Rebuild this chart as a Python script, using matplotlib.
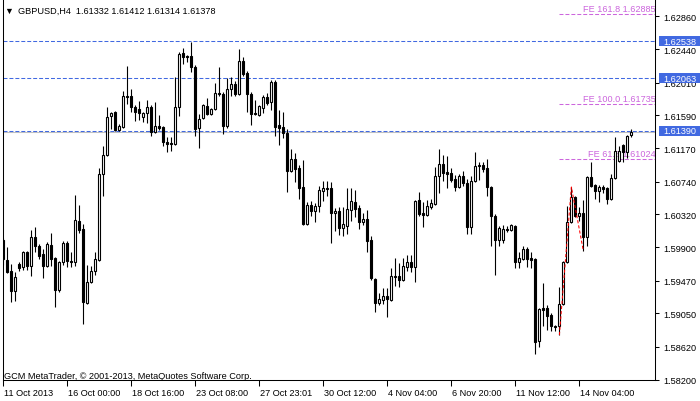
import numpy as np
import matplotlib
matplotlib.use('Agg')
import matplotlib.pyplot as plt
from matplotlib.transforms import blended_transform_factory
from matplotlib.patches import Rectangle

# ---------------- data ----------------
symbol = "GBPUSD,H4"

opens = [1.59992, 1.59735, 1.59594, 1.59337, 1.59684, 1.59645, 1.59838, 1.59658, 1.60030, 1.59915,
         1.59812, 1.59658, 1.59928, 1.59761, 1.59350, 1.59710, 1.59954, 1.59722, 1.59710, 1.60235,
         1.60133, 1.59184, 1.59454, 1.59594, 1.59735, 1.60838, 1.61082, 1.61581, 1.61633, 1.61402,
         1.61440, 1.61838, 1.61838, 1.61697, 1.61671, 1.61568, 1.61620, 1.61697, 1.61377, 1.61453,
         1.61440, 1.61249, 1.61236, 1.61223, 1.61697, 1.62390, 1.62351, 1.62351, 1.62210, 1.61427,
         1.61556, 1.61710, 1.61607, 1.61671, 1.61877, 1.61864, 1.61453, 1.61928, 1.61992, 1.61864,
         1.62287, 1.62133, 1.61864, 1.61620, 1.61594, 1.61685, 1.61825, 1.61762, 1.62018, 1.61466,
         1.61440, 1.61364, 1.60876, 1.61030, 1.60915, 1.60671, 1.60197, 1.60440, 1.60363, 1.60427,
         1.60620, 1.60659, 1.60659, 1.60338, 1.60363, 1.60146, 1.60171, 1.60376, 1.60479, 1.60402,
         1.60223, 1.60261, 1.59992, 1.59492, 1.59184, 1.59222, 1.59273, 1.59222, 1.59530, 1.59530,
         1.59479, 1.59645, 1.59710, 1.59645, 1.60504, 1.60338, 1.60312, 1.60414, 1.60453, 1.60812,
         1.60966, 1.60864, 1.60851, 1.60774, 1.60671, 1.60812, 1.60723, 1.60158, 1.60748, 1.60940,
         1.60953, 1.60915, 1.60671, 1.60299, 1.59992, 1.59992, 1.60133, 1.60120, 1.60171, 1.59710,
         1.59748, 1.59876, 1.59761, 1.59748, 1.58696, 1.59120, 1.59120, 1.59030, 1.58889, 1.58889,
         1.59171, 1.59710, 1.60223, 1.60543, 1.60299, 1.60338, 1.60030, 1.60799, 1.60697, 1.60620,
         1.60671, 1.60659, 1.60517, 1.60787, 1.61004, 1.61210, 1.61121, 1.61332]

highs = [1.60018, 1.59902, 1.59684, 1.59582, 1.59710, 1.59850, 1.59850, 1.60120, 1.60158, 1.59941,
         1.59876, 1.59967, 1.60082, 1.59773, 1.59722, 1.59979, 1.59979, 1.59838, 1.60569, 1.60440,
         1.60197, 1.59671, 1.59658, 1.59838, 1.60915, 1.61197, 1.61697, 1.61633, 1.61645, 1.61479,
         1.61902, 1.62223, 1.61928, 1.61723, 1.61774, 1.61633, 1.61787, 1.61723, 1.61762, 1.61594,
         1.61453, 1.61312, 1.61312, 1.62081, 1.62403, 1.62454, 1.62364, 1.62531, 1.62236, 1.61607,
         1.61736, 1.61813, 1.61685, 1.62005, 1.62210, 1.61890, 1.62069, 1.62081, 1.62030, 1.62441,
         1.62338, 1.62158, 1.61890, 1.61787, 1.61723, 1.61851, 1.61877, 1.62043, 1.62043, 1.61658,
         1.61633, 1.61415, 1.61159, 1.61108, 1.60953, 1.61017, 1.60479, 1.60491, 1.60466, 1.60684,
         1.60748, 1.60748, 1.60736, 1.60402, 1.60414, 1.60414, 1.60659, 1.60659, 1.60633, 1.60440,
         1.60338, 1.60376, 1.60043, 1.59505, 1.59312, 1.59377, 1.59377, 1.59633, 1.59761, 1.59697,
         1.59761, 1.59799, 1.59799, 1.60504, 1.60608, 1.60479, 1.60504, 1.60517, 1.60927, 1.61159,
         1.61082, 1.61069, 1.60915, 1.60825, 1.60838, 1.60876, 1.60774, 1.60812, 1.61121, 1.60992,
         1.60992, 1.61030, 1.60684, 1.60325, 1.60171, 1.60184, 1.60171, 1.60197, 1.60184, 1.59838,
         1.59915, 1.59902, 1.59838, 1.59761, 1.59120, 1.59441, 1.59158, 1.59056, 1.58902, 1.59389,
         1.59722, 1.60427, 1.60671, 1.60556, 1.60414, 1.60504, 1.60812, 1.60992, 1.60710, 1.60697,
         1.60697, 1.60671, 1.60838, 1.61312, 1.61197, 1.61223, 1.61338, 1.61412]

lows = [1.59671, 1.59569, 1.59197, 1.59209, 1.59594, 1.59607, 1.59607, 1.59530, 1.59838, 1.59748,
        1.59505, 1.59645, 1.59658, 1.59132, 1.59325, 1.59671, 1.59645, 1.59645, 1.59658, 1.60082,
        1.58915, 1.59171, 1.59441, 1.59543, 1.59722, 1.60556, 1.61069, 1.61415, 1.61389, 1.61389,
        1.61427, 1.61736, 1.61633, 1.61517, 1.61530, 1.61505, 1.61492, 1.61325, 1.61364, 1.61402,
        1.61197, 1.61121, 1.61133, 1.61210, 1.61581, 1.62249, 1.62275, 1.62146, 1.61325, 1.61172,
        1.61543, 1.61594, 1.61594, 1.61658, 1.61838, 1.61351, 1.61427, 1.61838, 1.61838, 1.61851,
        1.62094, 1.61633, 1.61466, 1.61594, 1.61581, 1.61620, 1.61723, 1.61658, 1.61325, 1.61210,
        1.61300, 1.60608, 1.60864, 1.60736, 1.60517, 1.60184, 1.60184, 1.60299, 1.60223, 1.60351,
        1.60491, 1.60556, 1.59954, 1.60107, 1.60056, 1.60043, 1.60069, 1.60235, 1.60286, 1.60133,
        1.60184, 1.59838, 1.59479, 1.59069, 1.59158, 1.59171, 1.59004, 1.59209, 1.59402, 1.59389,
        1.59466, 1.59594, 1.59582, 1.59454, 1.60299, 1.60158, 1.60299, 1.60389, 1.60440, 1.60595,
        1.60748, 1.60659, 1.60736, 1.60620, 1.60659, 1.60684, 1.60069, 1.60069, 1.60736, 1.60761,
        1.60864, 1.60556, 1.59915, 1.59543, 1.59915, 1.59954, 1.60094, 1.60107, 1.59633, 1.59633,
        1.59735, 1.59645, 1.59633, 1.58530, 1.58619, 1.58889, 1.58837, 1.58824, 1.58824, 1.58773,
        1.59158, 1.59697, 1.60210, 1.60286, 1.60235, 1.59850, 1.59915, 1.60671, 1.60517, 1.60479,
        1.60595, 1.60453, 1.60504, 1.60774, 1.60992, 1.60992, 1.61044, 1.61314]

closes = [1.59748, 1.59582, 1.59337, 1.59517, 1.59633, 1.59838, 1.59658, 1.60030, 1.59915, 1.59786,
          1.59658, 1.59941, 1.59748, 1.59350, 1.59710, 1.59954, 1.59722, 1.59710, 1.60248, 1.60120,
          1.59197, 1.59454, 1.59594, 1.59748, 1.60838, 1.61082, 1.61568, 1.61620, 1.61402, 1.61453,
          1.61838, 1.61825, 1.61697, 1.61633, 1.61620, 1.61620, 1.61697, 1.61377, 1.61453, 1.61427,
          1.61249, 1.61223, 1.61223, 1.61697, 1.62377, 1.62338, 1.62338, 1.62210, 1.61415, 1.61543,
          1.61723, 1.61607, 1.61671, 1.61877, 1.61864, 1.61453, 1.61928, 1.61992, 1.61864, 1.62287,
          1.62120, 1.61864, 1.61607, 1.61607, 1.61710, 1.61825, 1.61749, 1.62018, 1.61440, 1.61427,
          1.61364, 1.60876, 1.61030, 1.60902, 1.60659, 1.60197, 1.60440, 1.60363, 1.60427, 1.60633,
          1.60659, 1.60646, 1.60338, 1.60363, 1.60146, 1.60197, 1.60389, 1.60491, 1.60389, 1.60223,
          1.60261, 1.59979, 1.59505, 1.59184, 1.59235, 1.59273, 1.59235, 1.59530, 1.59517, 1.59479,
          1.59658, 1.59710, 1.59645, 1.60491, 1.60325, 1.60312, 1.60427, 1.60466, 1.60812, 1.60966,
          1.60851, 1.60838, 1.60761, 1.60671, 1.60812, 1.60723, 1.60158, 1.60748, 1.60940, 1.60953,
          1.60902, 1.60671, 1.60299, 1.59992, 1.60146, 1.60133, 1.60120, 1.60184, 1.59710, 1.59761,
          1.59876, 1.59748, 1.59735, 1.58684, 1.59107, 1.59094, 1.59017, 1.58889, 1.58876, 1.59171,
          1.59710, 1.60223, 1.60543, 1.60299, 1.60338, 1.60030, 1.60799, 1.60684, 1.60620, 1.60671,
          1.60646, 1.60517, 1.60787, 1.61133, 1.61133, 1.61121, 1.61325, 1.61378]

x_tick_bars = [0, 16, 32, 48, 64, 80, 96, 112, 128, 144]
x_tick_labels = ['11 Oct 2013', '16 Oct 00:00', '18 Oct 16:00', '23 Oct 08:00', '27 Oct 23:01',
                 '30 Oct 12:00', '4 Nov 04:00', '6 Nov 20:00', '11 Nov 12:00', '14 Nov 04:00']
y_ticks = [1.58200, 1.58620, 1.59050, 1.59470, 1.59900, 1.60320, 1.60740,
           1.61170, 1.61590, 1.62010, 1.62440, 1.62860]

hline_levels = [1.62538, 1.62063, 1.61390]
bid_price = 1.61378

fe_ratios = ['161.8', '100.0', '61.8']
fe_levels = [1.62885, 1.61735, 1.61024]
fe_bars = [139, 142, 145]
fe_prices = [1.58773, 1.60671, 1.59850]

copyright_text = 'GCM MetaTrader, \u00a9 2001-2013, MetaQuotes Software Corp.'

# ---------------- style ----------------
plt.rcParams['font.family'] = ['Liberation Sans', 'DejaVu Sans']
FS = 6.6
BLUE = '#4169E1'
VIOLET = '#cc66dd'
W, H = 700, 402

fig = plt.figure(figsize=(W / 100, H / 100), dpi=100)
fig.patch.set_facecolor('white')
ax = fig.add_axes([3 / W, 21 / H, 652 / W, 381 / H])
ax.set_facecolor('white')
ax.set_autoscale_on(False)

XMIN, XMAX = -0.075, 162.9
YMIN, YMAX = 1.58196, 1.63082
ax.set_xlim(XMIN, XMAX)
ax.set_ylim(YMIN, YMAX)

o = np.array(opens); h = np.array(highs); l = np.array(lows); c = np.array(closes)
x = np.arange(len(o))

# horizontal lines
ax.axhline(bid_price, color='#c0c0c0', lw=0.75, zorder=1)
for lvl in hline_levels:
    ax.axhline(lvl, color=BLUE, lw=0.75, ls=(0, (3.8, 1.9)), zorder=2)

# FE levels
ax.hlines(fe_levels, fe_bars[0], XMAX, color=VIOLET, lw=0.75, ls=(0, (3.8, 1.9)), zorder=2)
for r, lvl in zip(fe_ratios, fe_levels):
    ax.annotate(f'FE {r} {lvl:.5f}', xy=(1, lvl), xycoords=('axes fraction', 'data'),
                xytext=(0.5, 4.3), textcoords='offset points', ha='right', va='center',
                color=VIOLET, fontsize=FS, zorder=2, annotation_clip=False)

# candles
ax.vlines(x, l, h, color='black', lw=0.8, zorder=3)
bull = c >= o
ax.bar(x, np.abs(c - o), bottom=np.minimum(o, c), width=0.5,
       color=np.where(bull, 'white', 'black'), edgecolor='black', linewidth=0.8, zorder=4)

# FE zigzag
ax.plot(fe_bars, fe_prices, color='red', lw=0.75, ls=(0, (3, 2)), zorder=5)

# spines
ax.spines['top'].set_visible(False)
for s in ['left', 'bottom', 'right']:
    ax.spines[s].set_linewidth(0.75)
    ax.spines[s].set_color('black')

# y axis on right
ax.yaxis.tick_right()
ax.set_yticks(y_ticks)
ax.set_yticklabels([f'{v:.5f}' for v in y_ticks])
ax.tick_params(axis='y', direction='out', length=2.9, width=0.75, pad=2.9, labelsize=FS,
               left=False, right=True)

# x axis
ax.set_xticks(x_tick_bars)
ax.set_xticklabels([''] * len(x_tick_bars))
ax.tick_params(axis='x', direction='out', length=4, width=0.75)
for b, lab in zip(x_tick_bars, x_tick_labels):
    ax.annotate(lab, xy=(b, 0), xycoords=('data', 'axes fraction'), xytext=(0.8, -9.3),
                textcoords='offset points', ha='left', va='center', fontsize=FS,
                annotation_clip=False)

# price labels on right
trans = blended_transform_factory(fig.transFigure, ax.transData)
box_h = 10 * (YMAX - YMIN) / 381
for lvl in hline_levels:
    ax.add_patch(Rectangle((659 / W, lvl - box_h / 2), 41 / W, box_h, transform=trans,
                           facecolor=BLUE, edgecolor='none', clip_on=False, zorder=6))
    ax.text(663 / W, lvl, f'{lvl:.5f}', transform=trans, color='white', fontsize=FS,
            va='center', ha='left', zorder=7, clip_on=False)

ax.set_xlim(XMIN, XMAX)
ax.set_ylim(YMIN, YMAX)

# header and footer
fig.text(4.5 / W, 1 - 11 / H, '\u25bc', fontsize=6.5, va='center', ha='left')
fig.text(18 / W, 1 - 11 / H,
         f'{symbol}  {opens[-1]:.5f} {highs[-1]:.5f} {lows[-1]:.5f} {closes[-1]:.5f}',
         fontsize=FS, va='center', ha='left')
fig.text(4 / W, 1 - 376.5 / H, copyright_text, fontsize=FS, va='center', ha='left')

fig.savefig('out.png', dpi=100, facecolor='white')
